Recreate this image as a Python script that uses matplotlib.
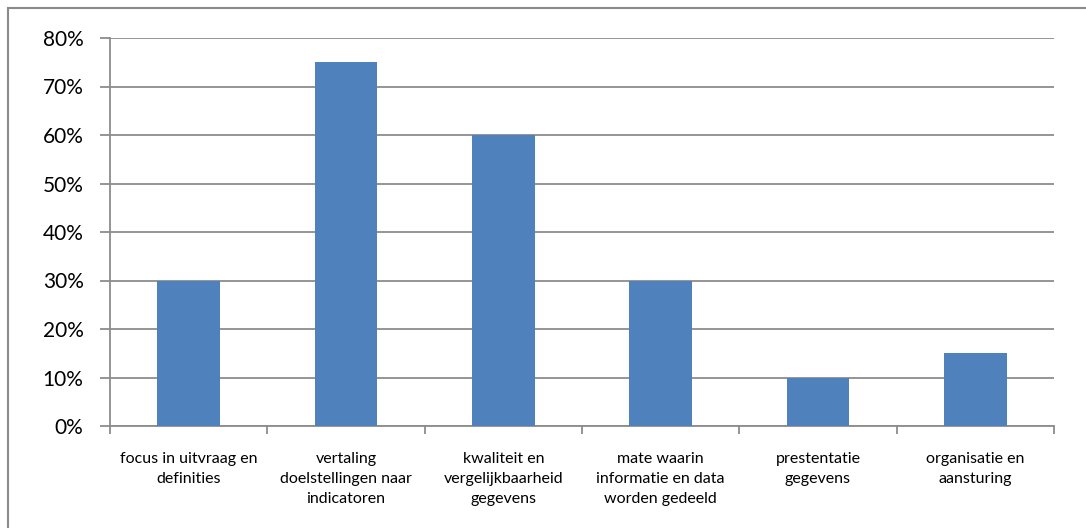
import matplotlib.pyplot as plt
from matplotlib.patches import Rectangle
from matplotlib.ticker import FixedLocator, PercentFormatter

categories = [
    "focus in uitvraag en\ndefinities",
    "vertaling\ndoelstellingen naar\nindicatoren",
    "kwaliteit en\nvergelijkbaarheid\ngegevens",
    "mate waarin\ninformatie en data\nworden gedeeld",
    "prestentatie\ngegevens",
    "organisatie en\naansturing",
]
values = [0.30, 0.75, 0.60, 0.30, 0.10, 0.15]
y_ticks = [0, 0.1, 0.2, 0.3, 0.4, 0.5, 0.6, 0.7, 0.8]

bar_color = "#4F81BD"
grid_color = "#8C8C8C"

plt.rcParams["font.family"] = ["Lato", "DejaVu Sans"]

fig = plt.figure(figsize=(10.86, 5.28), dpi=100)
W, H = 1086, 528

# outer chart frame (right and bottom edges fall outside the image)
fig.patches.append(Rectangle((8 / W, -0.1), 2.0, 1.1 - 8 / H,
                             transform=fig.transFigure, fill=False,
                             edgecolor="#8A8A8A", linewidth=1.5))

ax = fig.add_axes([110 / W, 1 - 426 / H, (1054 - 110) / W, (426 - 38) / H])

x = range(len(categories))
ax.bar(x, values, width=0.4, color=bar_color, zorder=3)

ax.set_xlim(-0.5, len(categories) - 0.5)
ax.set_ylim(0, 0.8)
ax.set_yticks(y_ticks)
ax.yaxis.set_major_formatter(PercentFormatter(1.0, decimals=0))
ax.yaxis.grid(True, color=grid_color, linewidth=1.3, zorder=0)

ax.set_xticks(list(x))
ax.set_xticklabels(categories, fontsize=11.5, linespacing=1.55)
ax.xaxis.set_minor_locator(FixedLocator([i - 0.5 for i in range(len(categories) + 1)]))
ax.tick_params(axis="x", which="major", length=0, pad=19)
ax.tick_params(axis="x", which="minor", length=6, color=grid_color, width=1.3)
ax.tick_params(axis="y", length=7, color=grid_color, width=1.3, pad=12, labelsize=15)

for side in ("top", "right"):
    ax.spines[side].set_visible(False)
for side in ("left", "bottom"):
    ax.spines[side].set_color(grid_color)
    ax.spines[side].set_linewidth(1.3)

fig.savefig("out.png", dpi=100)
